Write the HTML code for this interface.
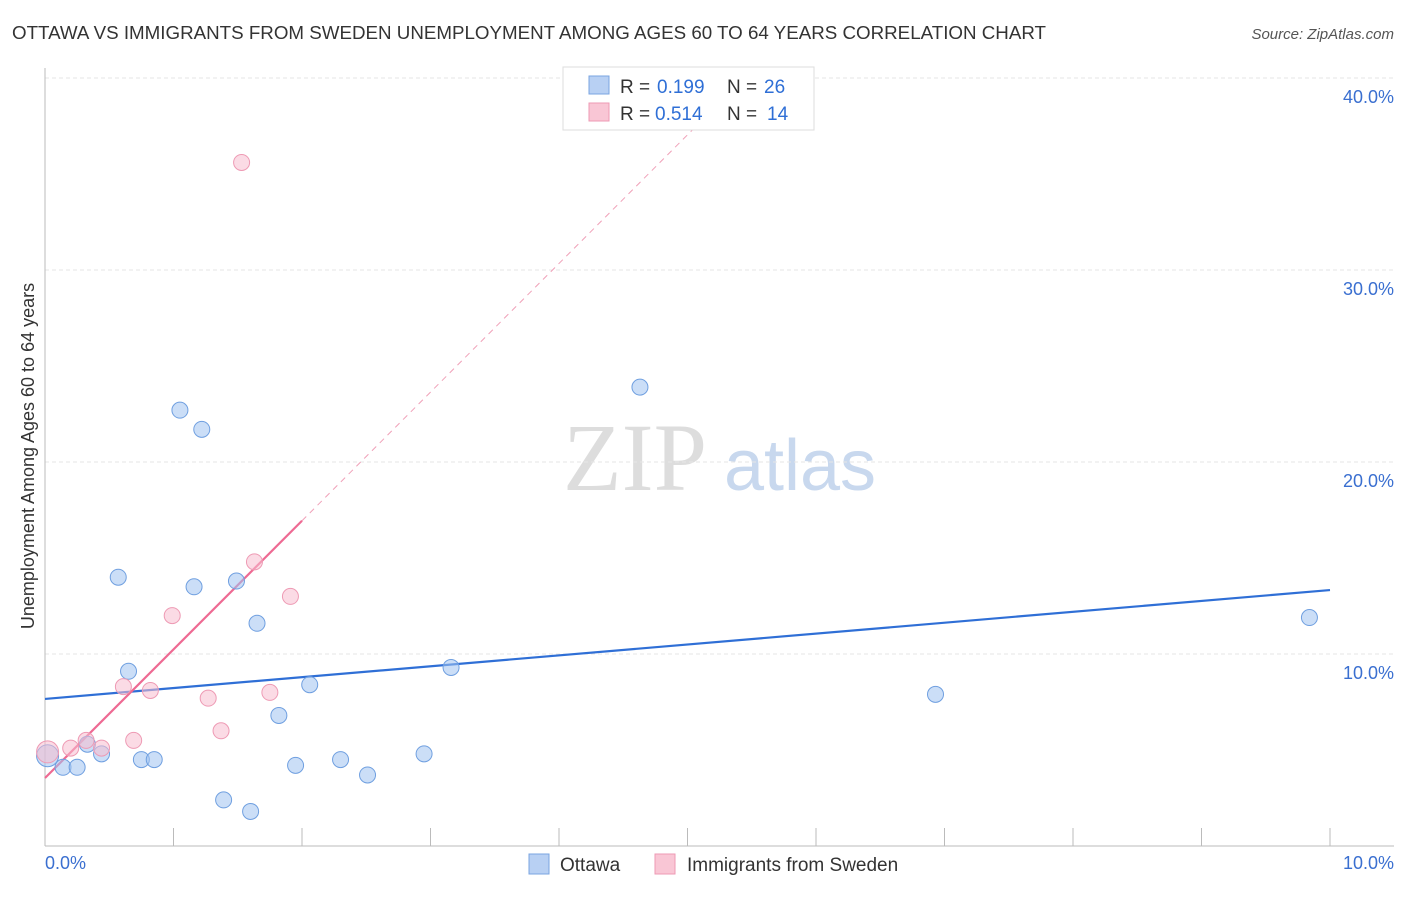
<!DOCTYPE html>
<html><head><meta charset="utf-8"><style>
body{margin:0;background:#fff;font-family:"Liberation Sans",sans-serif;}
</style></head><body>
<svg width="1406" height="892" xmlns="http://www.w3.org/2000/svg" style="font-family:'Liberation Sans',sans-serif">
<text x="12" y="39" font-size="18" fill="#333" textLength="1034" lengthAdjust="spacingAndGlyphs">OTTAWA VS IMMIGRANTS FROM SWEDEN UNEMPLOYMENT AMONG AGES 60 TO 64 YEARS CORRELATION CHART</text>
<text x="1394" y="39" font-size="15" fill="#555" font-style="italic" text-anchor="end">Source: ZipAtlas.com</text>
<text x="635" y="490" font-size="96" fill="#ddd" font-family="Liberation Serif" text-anchor="middle">ZIP</text>
<text x="800" y="490" font-size="72" fill="#c8d8ee" text-anchor="middle">atlas</text>
<g id="grid"></g>
<g id="axes"></g>
<text transform="translate(34,456) rotate(-90)" font-size="18" fill="#333" text-anchor="middle">Unemployment Among Ages 60 to 64 years</text>
<text x="45" y="869" font-size="18" fill="#3a6fd0">0.0%</text>
<text x="1394" y="869" font-size="18" fill="#3a6fd0" text-anchor="end">10.0%</text>
<g id="lines"></g>
<g id="pts"></g>
<g>
<rect x="563" y="67" width="251" height="63" fill="#fff" stroke="#ddd"/>
<rect x="589" y="76" width="20" height="18" fill="#b8d0f3" stroke="#7aa4e0"/>
<rect x="589" y="103" width="20" height="18" fill="#f9c6d5" stroke="#ee9ab4"/>
<text x="620" y="93" font-size="19" fill="#333">R =</text>
<text x="657" y="93" font-size="19" fill="#2f6fd6">0.199</text>
<text x="727" y="93" font-size="19" fill="#333">N =</text>
<text x="764" y="93" font-size="19" fill="#2f6fd6">26</text>
<text x="620" y="120" font-size="19" fill="#333">R =</text>
<text x="655" y="120" font-size="19" fill="#2f6fd6">0.514</text>
<text x="727" y="120" font-size="19" fill="#333">N =</text>
<text x="767" y="120" font-size="19" fill="#2f6fd6">14</text>
</g>
<g>
<rect x="529" y="854" width="20" height="20" fill="#b8d0f3" stroke="#7aa4e0"/>
<text x="560" y="871" font-size="19" fill="#333">Ottawa</text>
<rect x="655" y="854" width="20" height="20" fill="#f9c6d5" stroke="#ee9ab4"/>
<text x="687" y="871" font-size="19" fill="#333">Immigrants from Sweden</text>
</g>
</svg>
<script>
const yTicks=[10,20,30,40];
const yTickLabels=["10.0%","20.0%","30.0%","40.0%"];
const xTicks=[0,1,2,3,4,5,6,7,8,9,10];
const ottawaX=[0.02,0.14,0.25,0.33,0.44,0.57,0.65,0.75,0.85,1.05,1.16,1.22,1.39,1.49,1.60,1.65,1.82,1.95,2.06,2.30,2.51,2.95,3.16,4.63,6.93,9.84];
const ottawaY=[4.7,4.1,4.1,5.3,4.8,14.0,9.1,4.5,4.5,22.7,13.5,21.7,2.4,13.8,1.8,11.6,6.8,4.2,8.4,4.5,3.7,4.8,9.3,23.9,7.9,11.9];
const swedenX=[0.02,0.2,0.32,0.44,0.61,0.69,0.82,0.99,1.27,1.37,1.53,1.63,1.75,1.91];
const swedenY=[4.9,5.1,5.5,5.1,8.3,5.5,8.1,12.0,7.7,6.0,35.6,14.8,8.0,13.0];
const ottawaTrend=[7.66,13.33];
const swedenTrend=[3.54,6.7];
const NS="http://www.w3.org/2000/svg";
const X=v=>45+v*128.5, Y=v=>846-v*19.2;
function mk(t,a,p){const e=document.createElementNS(NS,t);for(const k in a)e.setAttribute(k,a[k]);document.getElementById(p).appendChild(e);return e;}
yTicks.forEach((t,i)=>{
 const l=mk('line',{x1:45,x2:1394,y1:Y(t),y2:Y(t),stroke:'#e6e6e6','stroke-dasharray':'4,3'},'grid');
 
 
 const tx=mk('text',{x:1394,y:Y(t)+25,'font-size':18,fill:'#3a6fd0','text-anchor':'end'},'grid');
 tx.textContent=yTickLabels[i];
 
 
});
const ax=mk('line',{x1:45,x2:45,y1:68,y2:846,stroke:'#bbb'},'axes');


const bx=mk('line',{x1:45,x2:1394,y1:846,y2:846,stroke:'#bbb'},'axes');


xTicks.forEach(t=>{const l=mk('line',{x1:X(t),x2:X(t),y1:846,y2:828,stroke:'#bbb'},'axes');
 
 });
const bt=mk('line',{x1:X(0),y1:Y(ottawaTrend[0]),x2:X(10),y2:Y(ottawaTrend[1]),stroke:'#2f6fd6','stroke-width':2.2},'lines');


const xe=(40-swedenTrend[0])/swedenTrend[1];
const pd=mk('line',{x1:X(2),y1:Y(swedenTrend[0]+2*swedenTrend[1]),x2:X(xe),y2:Y(40),stroke:'#f0a0b8','stroke-width':1,'stroke-dasharray':'6,5'},'lines');


const ps=mk('line',{x1:X(0),y1:Y(swedenTrend[0]),x2:X(2),y2:Y(swedenTrend[0]+2*swedenTrend[1]),stroke:'#ee6a93','stroke-width':2.2},'lines');


ottawaX.forEach((x,i)=>{const c=mk('circle',{cx:X(x),cy:Y(ottawaY[i]),r:i==0?11:8,fill:'rgba(160,195,240,0.55)',stroke:'#6f9fe0','stroke-width':1},'pts');
 
 });
swedenX.forEach((x,i)=>{const c=mk('circle',{cx:X(x),cy:Y(swedenY[i]),r:i==0?11:8,fill:'rgba(248,190,208,0.55)',stroke:'#ee9ab4','stroke-width':1},'pts');
 
 });
</script>
</body></html>
